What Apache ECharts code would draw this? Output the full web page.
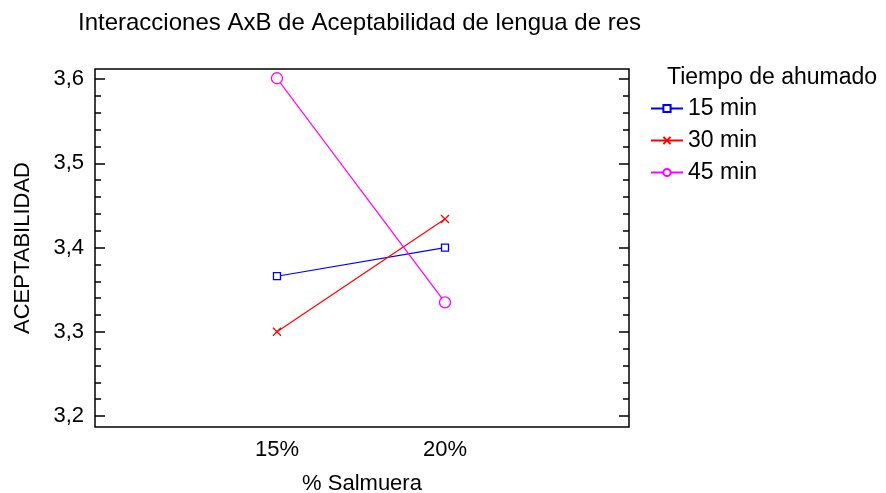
<!DOCTYPE html>
<html>
<head>
<meta charset="utf-8">
<script src="https://cdn.jsdelivr.net/npm/echarts@6/dist/echarts.min.js"></script>
<style>
html,body{margin:0;padding:0;background:#fff;}
#chart{width:886px;height:493px;}
</style>
</head>
<body>
<div id="chart"></div>
<script>
const categories = ['15%', '20%'];
const seriesNames = ['15 min', '30 min', '45 min'];
const s15 = [3.366, 3.400];
const s30 = [3.300, 3.434];
const s45 = [3.601, 3.335];
const majorTicks = [3.2, 3.3, 3.4, 3.5, 3.6];
const minorTicks = [3.22, 3.24, 3.26, 3.28, 3.32, 3.34, 3.36, 3.38, 3.42, 3.44, 3.46, 3.48, 3.52, 3.54, 3.56, 3.58];

const FONT = "'Liberation Sans', Arial, sans-serif";
const yMin = 3.187, yMax = 3.612;
const xMin = -0.083, xMax = 3.095;
const xPos = categories.map((c, i) => i + 1);

const chart = echarts.init(document.getElementById('chart'), null, {renderer: 'canvas'});

function yAx(grid, pos, ticks, len, labels) {
  return {
    type: 'value', gridIndex: grid, position: pos, min: yMin, max: yMax,
    axisLine: {show: false, onZero: false},
    splitLine: {show: false},
    axisTick: {show: true, inside: true, length: len, customValues: ticks, lineStyle: {color: '#000', width: 1.5}},
    axisLabel: labels ? {show: true, customValues: ticks, margin: 11, color: '#000', fontSize: 22, fontFamily: FONT,
      formatter: v => v.toFixed(1).replace('.', ',')} : {show: false},
    name: labels ? 'ACEPTABILIDAD' : '',
    nameLocation: 'middle', nameGap: 61, nameRotate: 90, nameMoveOverlap: false,
    nameTextStyle: {color: '#000', fontSize: 22, fontFamily: FONT}
  };
}

const xSym = 'path://M0,0L10,10M10,0L0,10';
const colors = ['#0000ff', '#ff0000', '#ff00ff'];
const symbols = ['rect', xSym, 'circle'];
const symSizes = [7, 8, 11];
const vals = [s15, s30, s45];
const gridBox = {left: 95, right: 257, top: 69, bottom: 66, outerBoundsMode: 'none', containLabel: false};

chart.setOption({
  animation: false,
  backgroundColor: '#fff',
  title: [
    {text: 'Interacciones AxB de Aceptabilidad de lengua de res', left: 78, top: 11, padding: 0,
      textStyle: {color: '#000', fontSize: 24, fontWeight: 'normal', fontFamily: FONT}},
    {text: 'Tiempo de ahumado', left: 667, top: 66, padding: 0,
      textStyle: {color: '#000', fontSize: 23, fontWeight: 'normal', fontFamily: FONT}}
  ],
  legend: {
    orient: 'vertical', left: 650, top: 97, padding: 0, itemWidth: 32, itemHeight: 9, itemGap: 9,
    data: seriesNames,
    textStyle: {color: '#000', fontSize: 23, lineHeight: 22, fontFamily: FONT}
  },
  grid: [
    Object.assign({show: true, borderColor: '#000', borderWidth: 1.5, backgroundColor: 'transparent'}, gridBox),
    Object.assign({show: false}, gridBox)
  ],
  xAxis: [
    {
      type: 'value', gridIndex: 0, min: xMin, max: xMax,
      axisLine: {show: false, onZero: false}, axisTick: {show: false}, splitLine: {show: false},
      axisLabel: {customValues: xPos, margin: 12, color: '#000', fontSize: 22, fontFamily: FONT,
        formatter: v => categories[Math.round(v) - 1] || ''},
      name: '% Salmuera', nameLocation: 'middle', nameGap: 46, nameMoveOverlap: false,
      nameTextStyle: {color: '#000', fontSize: 22, fontFamily: FONT}
    },
    {
      type: 'value', gridIndex: 1, min: xMin, max: xMax, show: false
    }
  ],
  yAxis: [
    yAx(0, 'left', majorTicks, 10, true),
    yAx(0, 'right', majorTicks, 10, false),
    yAx(1, 'left', minorTicks, 6, false),
    yAx(1, 'right', minorTicks, 6, false)
  ],
  series: seriesNames.map((n, k) => ({
    name: n, type: 'line', xAxisIndex: 0, yAxisIndex: 0,
    data: xPos.map((x, i) => [x, vals[k][i]]),
    symbol: symbols[k], symbolSize: symSizes[k], showSymbol: true,
    lineStyle: {color: colors[k], width: 1.2},
    itemStyle: {color: k === 1 ? colors[k] : '#fff', borderColor: colors[k], borderWidth: 1.3},
    emphasis: {disabled: true}
  }))
});
</script>
</body>
</html>
